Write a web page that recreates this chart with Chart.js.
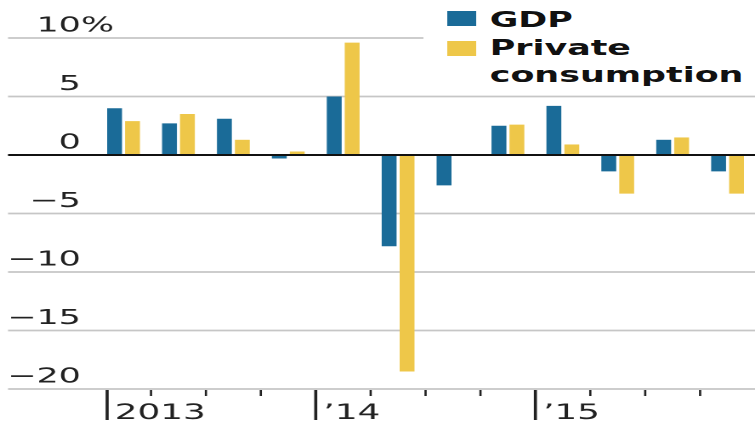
<!DOCTYPE html>
<html>
<head>
<meta charset="utf-8">
<script src="https://cdn.jsdelivr.net/npm/chart.js@4"></script>
<style>
  html, body { margin: 0; padding: 0; background: #fff; }
  /* the source picture is stretched sideways, so the whole chart is too */
  #wrap { position: relative; width: 444px; height: 426px; transform: scaleX(1.7005); transform-origin: 0 0; }
  #legend { position: absolute; left: 249px; top: 0; width: 195px; height: 92px; background: #fff;
            font: bold 20.5px "DejaVu Sans", sans-serif; line-height: 27.5px; color: #111; }
  #legend .sw { position: absolute; left: 14px; width: 16.5px; height: 15px; }
  #legend .txt { position: absolute; left: 39px; top: 7px; white-space: nowrap; }
</style>
</head>
<body>
<div id="wrap">
  <canvas id="chart" width="444" height="426"></canvas>
  <div id="legend">
    <div class="sw" style="top:11px;background:#1a6b98"></div>
    <div class="sw" style="top:41px;background:#eec749"></div>
    <div class="txt">GDP<br>Private<br>consumption</div>
  </div>
</div>
<script>
// Quarterly change, annualised, %
const quarters = ['2013 Q1', '2013 Q2', '2013 Q3', '2013 Q4',
                  '2014 Q1', '2014 Q2', '2014 Q3', '2014 Q4',
                  '2015 Q1', '2015 Q2', '2015 Q3', '2015 Q4'];
const gdp = [4.0, 2.7, 3.1, -0.3, 5.0, -7.8, -2.6, 2.5, 4.2, -1.4, 1.3, -1.4];
const privateConsumption = [2.9, 3.5, 1.3, 0.3, 9.6, -18.5, 0, 2.6, 0.9, -3.3, 1.5, -3.3];

const yTicks = [10, 5, 0, -5, -10, -15, -20];
const yTickLabels = ['10', '5', '0', '\u22125', '\u221210', '\u221215', '\u221220'];
const yearStarts = [0, 4, 8];
const yearLabels = ['2013', '\u201914', '\u201915'];

const BLUE = '#1a6b98';
const YELLOW = '#eec749';

// --- gridlines, axis labels and tick marks ---
function boundary(x, i) {
  return (x.getPixelForValue(i - 1) + x.getPixelForValue(i)) / 2;
}

const decor = {
  id: 'decor',
  beforeDatasetsDraw(chart) {
    const { ctx, chartArea, scales: { y } } = chart;
    ctx.save();
    ctx.lineWidth = 1.8;
    ctx.strokeStyle = '#c6c6c6';
    yTicks.forEach(v => {
      if (v === 0) return;
      const py = y.getPixelForValue(v);
      ctx.beginPath();
      ctx.moveTo(4.7, py);
      ctx.lineTo(chartArea.right + 4, py);
      ctx.stroke();
    });
    // y labels sit above their gridline, the % hangs past the numbers
    ctx.fillStyle = '#222';
    ctx.font = '20.5px "DejaVu Sans", sans-serif';
    ctx.textBaseline = 'alphabetic';
    yTicks.forEach((v, i) => {
      const py = y.getPixelForValue(v) - 6.5;
      ctx.textAlign = 'right';
      ctx.fillText(yTickLabels[i], 47.6, py);
      if (i === 0) {
        ctx.textAlign = 'left';
        ctx.fillText('%', 47.6, py);
      }
    });
    ctx.restore();
  },
  afterDatasetsDraw(chart) {
    const { ctx, chartArea, scales: { x, y } } = chart;
    ctx.save();
    // zero line over the bars
    const py0 = y.getPixelForValue(0);
    ctx.strokeStyle = '#111';
    ctx.lineWidth = 2;
    ctx.beginPath();
    ctx.moveTo(4.7, py0);
    ctx.lineTo(chartArea.right + 4, py0);
    ctx.stroke();

    // quarter ticks and year ticks
    const base = y.getPixelForValue(-20);
    ctx.strokeStyle = '#222';
    ctx.fillStyle = '#222';
    ctx.font = '21px "DejaVu Sans", sans-serif';
    ctx.textAlign = 'left';
    for (let i = 0; i < quarters.length; i++) {
      const yi = yearStarts.indexOf(i);
      let px;
      if (i === 0) {
        const bar = chart.getDatasetMeta(0).data[0];
        px = bar.x - bar.width / 2;
      } else {
        px = boundary(x, i);
      }
      if (yi >= 0) {
        ctx.lineWidth = 1.8;
        ctx.beginPath();
        ctx.moveTo(px, base + 1);
        ctx.lineTo(px, base + 31);
        ctx.stroke();
        ctx.fillText(yearLabels[yi], px + 4.5, base + 30);
      } else {
        ctx.lineWidth = 1.3;
        ctx.beginPath();
        ctx.moveTo(px, base + 1);
        ctx.lineTo(px, base + 7);
        ctx.stroke();
      }
    }
    ctx.restore();
  }
};

new Chart(document.getElementById('chart').getContext('2d'), {
  type: 'bar',
  data: {
    labels: quarters,
    datasets: [
      { label: 'GDP', data: gdp, backgroundColor: BLUE },
      { label: 'Private consumption', data: privateConsumption, backgroundColor: YELLOW }
    ]
  },
  options: {
    responsive: false,
    devicePixelRatio: 2,
    animation: false,
    layout: { padding: { left: 56.5, right: -2, top: 38, bottom: 37 } },
    datasets: { bar: { categoryPercentage: 0.653, barPercentage: 0.83 } },
    scales: {
      x: { display: false, offset: true },
      y: { display: false, min: -20, max: 10 }
    },
    plugins: {
      legend: { display: false },
      tooltip: { enabled: false }
    }
  },
  plugins: [decor]
});
</script>
</body>
</html>
